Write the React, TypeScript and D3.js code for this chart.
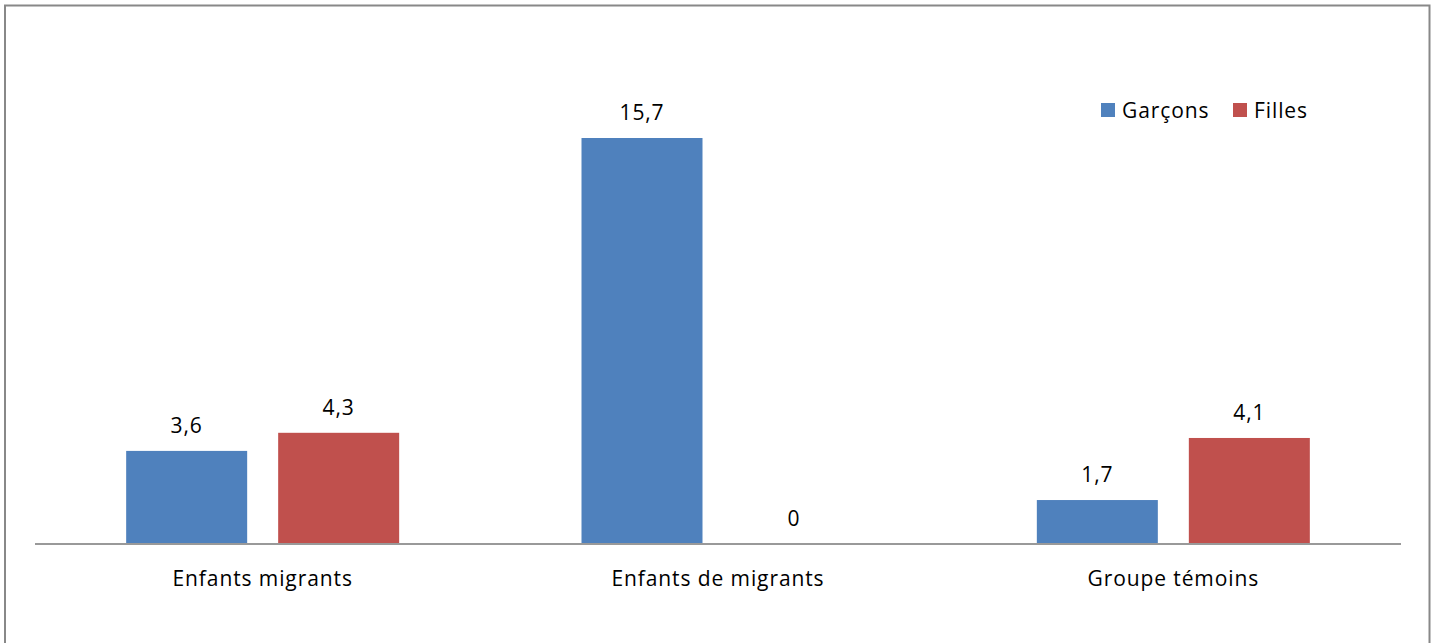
import React from "react";
import * as d3 from "d3";

const categories = ["Enfants migrants", "Enfants de migrants", "Groupe témoins"];
const seriesNames = ["Garçons", "Filles"];
const garcons = [3.6, 15.7, 1.7];
const filles = [4.3, 0, 4.1];
const colors = ["#4F81BD", "#C0504D"];

const W = 1437;
const H = 643;
const plotLeft = 35;
const plotRight = 1401;
const baseY = 544;
const FONT = "'Open Sans', Lato, sans-serif";
const FS = 21;
const LS = 0.9;

export default function App() {
  const x0 = d3.scaleBand<string>().domain(categories).range([plotLeft, plotRight]).paddingInner(0).paddingOuter(0);
  const bw = 121;
  const gap = 31;
  const y = d3.scaleLinear().domain([0, 15.7]).range([baseY, 138]);
  const series = [garcons, filles];
  const fmt = (v: number) => String(v).replace(".", ",");

  return (
    <svg width={W} height={H} style={{ position: "absolute", left: 0, top: 0 }}>
      <rect x={0} y={0} width={W} height={H} fill="#fff" />
      <rect x={5} y={5.5} width={1424.5} height={H + 20} fill="none" stroke="#888" strokeWidth={2} />
      {categories.map((c, i) => {
        const cx = (x0(c) as number) + x0.bandwidth() / 2;
        return (
          <g key={c}>
            {series.map((s, j) => {
              const bx = cx + (j === 0 ? -gap / 2 - bw : gap / 2);
              const v = s[i];
              return (
                <g key={j}>
                  {v > 0 && (
                    <rect x={bx} y={y(v)} width={bw} height={baseY - y(v)} fill={colors[j]} />
                  )}
                  <text x={bx + bw / 2} y={y(v) - 18} textAnchor="middle" fontFamily={FONT} fontSize={FS} letterSpacing={LS} fill="#000">
                    {fmt(v)}
                  </text>
                </g>
              );
            })}
            <text x={cx} y={586} textAnchor="middle" fontFamily={FONT} fontSize={FS} letterSpacing={LS} fill="#000">
              {c}
            </text>
          </g>
        );
      })}
      <line x1={plotLeft} x2={plotRight} y1={baseY} y2={baseY} stroke="#999" strokeWidth={2} />
      {seriesNames.map((n, j) => {
        const lx = j === 0 ? 1101 : 1233;
        return (
          <g key={n}>
            <rect x={lx} y={103} width={14} height={14} fill={colors[j]} />
            <text x={lx + 21} y={118} fontFamily={FONT} fontSize={FS} letterSpacing={LS} fill="#000">
              {n}
            </text>
          </g>
        );
      })}
    </svg>
  );
}
